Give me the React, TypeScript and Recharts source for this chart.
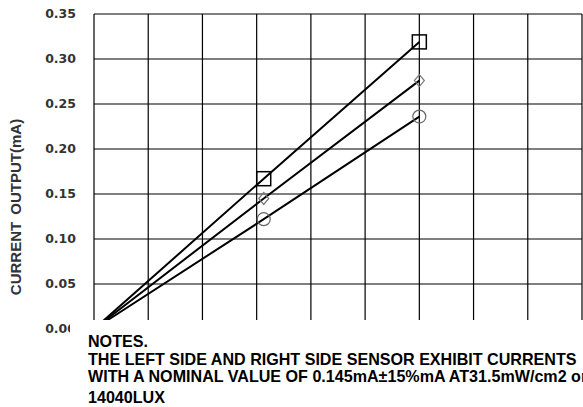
import React from "react"
import { CartesianGrid, Line, LineChart, XAxis, YAxis } from "recharts"

// light level steps along the (unlabelled) x axis
const levels = [0, 3.13, 6]
// current output (mA) for the three sensors
const squareSeries = [0, 0.167, 0.319]
const diamondSeries = [0, 0.145, 0.276]
const circleSeries = [0, 0.122, 0.236]

const xTicks = [0, 1, 2, 3, 4, 5, 6, 7, 8, 9]
const yTicks = [0, 0.05, 0.1, 0.15, 0.2, 0.25, 0.3, 0.35]

const noteLines = [
  "NOTES.",
  "THE LEFT SIDE AND RIGHT SIDE SENSOR EXHIBIT CURRENTS",
  "WITH A NOMINAL VALUE OF 0.145mA\u00b115%mA AT31.5mW/cm2 or",
  "14040LUX",
]

const data = levels.map((x, i) => ({
  x,
  square: squareSeries[i],
  diamond: diamondSeries[i],
  circle: circleSeries[i],
}))

const arial = "'Liberation Sans', Arial, sans-serif"

const SquareDot = (props: any) => {
  const { cx, cy, index } = props
  if (index === 0) return <g key={`sq-${index}`} />
  return (
    <rect key={`sq-${index}`} x={cx - 7} y={cy - 7} width={14} height={14} fill="none" stroke="#000" strokeWidth={1.5} />
  )
}

const DiamondDot = (props: any) => {
  const { cx, cy, index } = props
  if (index === 0) return <g key={`dm-${index}`} />
  return (
    <polygon
      key={`dm-${index}`}
      points={`${cx},${cy - 6} ${cx + 5},${cy} ${cx},${cy + 6} ${cx - 5},${cy}`}
      fill="none"
      stroke="#777"
      strokeWidth={1.2}
    />
  )
}

const CircleDot = (props: any) => {
  const { cx, cy, index } = props
  if (index === 0) return <g key={`ci-${index}`} />
  return <circle key={`ci-${index}`} cx={cx} cy={cy} r={6.5} fill="none" stroke="#666" strokeWidth={1.2} />
}

export default function App() {
  return (
    <div style={{ position: "relative", width: 583, height: 407, background: "#fff", overflow: "hidden" }}>
      <style>{"body{margin:0}"}</style>
      <LineChart width={583} height={407} data={data} margin={{ top: 14, right: 1, left: 0, bottom: 78 }}>
        <CartesianGrid stroke="#000" strokeWidth={1.2} />
        <XAxis dataKey="x" type="number" domain={[0, 9]} ticks={xTicks} hide />
        <YAxis
          width={94}
          domain={[0, 0.35]}
          ticks={yTicks}
          axisLine={false}
          tickLine={false}
          tickSize={0}
          tickMargin={18}
          tickFormatter={(v: number) => v.toFixed(2)}
          tick={{ fill: "#333", fontSize: 12.5, fontWeight: "bold", fontFamily: "'DejaVu Sans', sans-serif" }}
        />
        <Line type="linear" dataKey="square" stroke="#000" strokeWidth={2} dot={SquareDot} activeDot={false} isAnimationActive={false} />
        <Line type="linear" dataKey="diamond" stroke="#000" strokeWidth={2} dot={DiamondDot} activeDot={false} isAnimationActive={false} />
        <Line type="linear" dataKey="circle" stroke="#000" strokeWidth={2} dot={CircleDot} activeDot={false} isAnimationActive={false} />
      </LineChart>

      <div
        style={{
          position: "absolute",
          left: 15,
          top: 207,
          transform: "translate(-50%, -50%) rotate(-90deg)",
          whiteSpace: "nowrap",
          fontFamily: arial,
          fontWeight: "bold",
          fontSize: 15,
          wordSpacing: 3,
          color: "#333",
        }}
      >
        CURRENT OUTPUT(mA)
      </div>

      <div style={{ position: "absolute", left: 70, top: 320, width: 513, height: 87, background: "#fff" }} />

      {noteLines.map((line, i) => (
        <div
          key={line}
          style={{
            position: "absolute",
            left: 88,
            top: 332 + i * 17.6 + (i === 3 ? 3 : 0),
            whiteSpace: "nowrap",
            fontFamily: arial,
            fontWeight: "bold",
            fontSize: 16.1,
            lineHeight: "18px",
            color: "#000",
          }}
        >
          {line}
        </div>
      ))}
    </div>
  )
}
